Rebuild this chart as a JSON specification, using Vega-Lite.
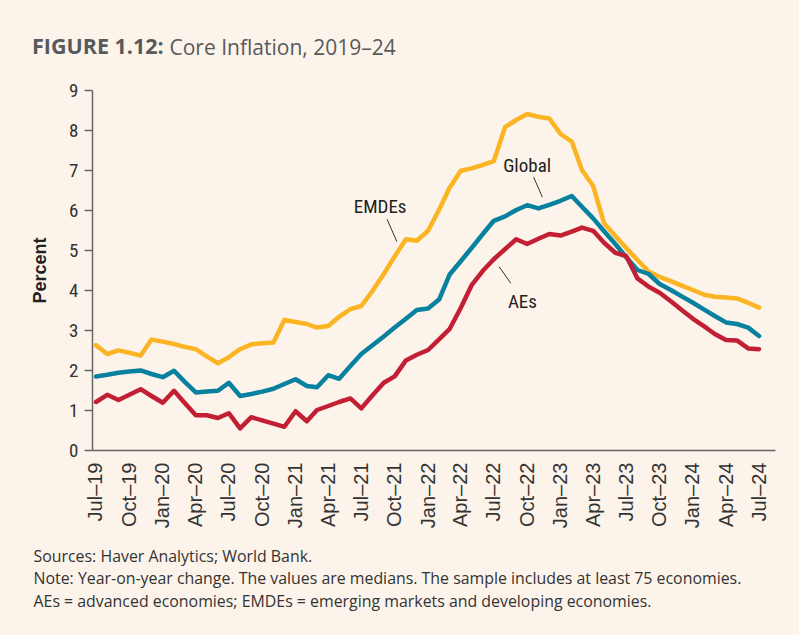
{
  "$schema": "https://vega.github.io/schema/vega-lite/v6.json",
  "width": 683,
  "height": 360,
  "autosize": {"type": "none"},
  "padding": {"left": 92, "top": 90, "right": 24, "bottom": 185},
  "background": "#FCF4EA",
  "config": {"view": {"stroke": null}, "font": "Open Sans"},
  "title": {
    "text": "FIGURE 1.12:",
    "anchor": "start",
    "frame": "group",
    "dx": -60,
    "offset": -38,
    "baseline": "alphabetic",
    "font": "Open Sans",
    "fontSize": 21.5,
    "fontWeight": "bold",
    "color": "#58595B"
  },
  "resolve": {"axis": {"x": "independent"}},
  "encoding": {
    "y": {
      "field": "value",
      "type": "quantitative",
      "scale": {"domain": [0, 9], "nice": false},
      "axis": {
        "values": [0, 1, 2, 3, 4, 5, 6, 7, 8, 9],
        "tickSize": 8,
        "tickColor": "#666666",
        "tickWidth": 1.5,
        "domainColor": "#666666",
        "domainWidth": 1.5,
        "grid": false,
        "labelFont": "Roboto Condensed, Roboto, sans-serif",
        "labelFontSize": 19,
        "labelColor": "#333333",
        "labelPadding": 6,
        "title": "Percent",
        "titleFont": "Liberation Sans",
        "titleFontSize": 18,
        "titleFontWeight": "bold",
        "titleColor": "#222222",
        "titleX": -47,
        "titleY": 180,
        "titleAngle": -90,
        "titleAlign": "center",
        "titleBaseline": "alphabetic"
      }
    }
  },
  "layer": [
    {
      "data": {
        "values": [
          {"date": "2019-07-01", "EMDEs": 2.62, "Global": 1.84, "AEs": 1.20},
          {"date": "2019-08-01", "EMDEs": 2.40, "Global": 1.88, "AEs": 1.38},
          {"date": "2019-09-01", "EMDEs": 2.49, "Global": 1.93, "AEs": 1.25},
          {"date": "2019-10-01", "EMDEs": 2.43, "Global": 1.96, "AEs": 1.38},
          {"date": "2019-11-01", "EMDEs": 2.36, "Global": 1.99, "AEs": 1.52},
          {"date": "2019-12-01", "EMDEs": 2.76, "Global": 1.90, "AEs": 1.35},
          {"date": "2020-01-01", "EMDEs": 2.71, "Global": 1.82, "AEs": 1.18},
          {"date": "2020-02-01", "EMDEs": 2.65, "Global": 1.98, "AEs": 1.48},
          {"date": "2020-03-01", "EMDEs": 2.58, "Global": 1.71, "AEs": 1.18},
          {"date": "2020-04-01", "EMDEs": 2.52, "Global": 1.44, "AEs": 0.87},
          {"date": "2020-05-01", "EMDEs": 2.34, "Global": 1.46, "AEs": 0.87},
          {"date": "2020-06-01", "EMDEs": 2.17, "Global": 1.48, "AEs": 0.80},
          {"date": "2020-07-01", "EMDEs": 2.32, "Global": 1.68, "AEs": 0.92},
          {"date": "2020-08-01", "EMDEs": 2.52, "Global": 1.35, "AEs": 0.54},
          {"date": "2020-09-01", "EMDEs": 2.64, "Global": 1.40, "AEs": 0.82},
          {"date": "2020-10-01", "EMDEs": 2.67, "Global": 1.46, "AEs": 0.74},
          {"date": "2020-11-01", "EMDEs": 2.69, "Global": 1.53, "AEs": 0.66},
          {"date": "2020-12-01", "EMDEs": 3.25, "Global": 1.65, "AEs": 0.58},
          {"date": "2021-01-01", "EMDEs": 3.20, "Global": 1.77, "AEs": 0.97},
          {"date": "2021-02-01", "EMDEs": 3.15, "Global": 1.60, "AEs": 0.72},
          {"date": "2021-03-01", "EMDEs": 3.06, "Global": 1.57, "AEs": 1.00},
          {"date": "2021-04-01", "EMDEs": 3.10, "Global": 1.87, "AEs": 1.10},
          {"date": "2021-05-01", "EMDEs": 3.33, "Global": 1.78, "AEs": 1.20},
          {"date": "2021-06-01", "EMDEs": 3.52, "Global": 2.10, "AEs": 1.29},
          {"date": "2021-07-01", "EMDEs": 3.60, "Global": 2.40, "AEs": 1.04},
          {"date": "2021-08-01", "EMDEs": 3.98, "Global": 2.62, "AEs": 1.37},
          {"date": "2021-09-01", "EMDEs": 4.40, "Global": 2.84, "AEs": 1.68},
          {"date": "2021-10-01", "EMDEs": 4.84, "Global": 3.06, "AEs": 1.84},
          {"date": "2021-11-01", "EMDEs": 5.27, "Global": 3.28, "AEs": 2.24},
          {"date": "2021-12-01", "EMDEs": 5.23, "Global": 3.50, "AEs": 2.38},
          {"date": "2022-01-01", "EMDEs": 5.48, "Global": 3.54, "AEs": 2.50},
          {"date": "2022-02-01", "EMDEs": 6.02, "Global": 3.77, "AEs": 2.77},
          {"date": "2022-03-01", "EMDEs": 6.55, "Global": 4.38, "AEs": 3.02},
          {"date": "2022-04-01", "EMDEs": 6.98, "Global": 4.72, "AEs": 3.55},
          {"date": "2022-05-01", "EMDEs": 7.04, "Global": 5.05, "AEs": 4.12},
          {"date": "2022-06-01", "EMDEs": 7.13, "Global": 5.40, "AEs": 4.48},
          {"date": "2022-07-01", "EMDEs": 7.22, "Global": 5.73, "AEs": 4.77},
          {"date": "2022-08-01", "EMDEs": 8.07, "Global": 5.84, "AEs": 5.02},
          {"date": "2022-09-01", "EMDEs": 8.25, "Global": 6.00, "AEs": 5.27},
          {"date": "2022-10-01", "EMDEs": 8.40, "Global": 6.12, "AEs": 5.15},
          {"date": "2022-11-01", "EMDEs": 8.33, "Global": 6.04, "AEs": 5.28},
          {"date": "2022-12-01", "EMDEs": 8.29, "Global": 6.13, "AEs": 5.40},
          {"date": "2023-01-01", "EMDEs": 7.90, "Global": 6.23, "AEs": 5.36},
          {"date": "2023-02-01", "EMDEs": 7.71, "Global": 6.35, "AEs": 5.46},
          {"date": "2023-03-01", "EMDEs": 7.00, "Global": 6.08, "AEs": 5.56},
          {"date": "2023-04-01", "EMDEs": 6.60, "Global": 5.79, "AEs": 5.48},
          {"date": "2023-05-01", "EMDEs": 5.67, "Global": 5.47, "AEs": 5.18},
          {"date": "2023-06-01", "EMDEs": 5.35, "Global": 5.15, "AEs": 4.93},
          {"date": "2023-07-01", "EMDEs": 5.05, "Global": 4.82, "AEs": 4.85},
          {"date": "2023-08-01", "EMDEs": 4.75, "Global": 4.50, "AEs": 4.29},
          {"date": "2023-09-01", "EMDEs": 4.46, "Global": 4.40, "AEs": 4.08},
          {"date": "2023-10-01", "EMDEs": 4.33, "Global": 4.15, "AEs": 3.93},
          {"date": "2023-11-01", "EMDEs": 4.22, "Global": 4.00, "AEs": 3.72},
          {"date": "2023-12-01", "EMDEs": 4.11, "Global": 3.84, "AEs": 3.50},
          {"date": "2024-01-01", "EMDEs": 4.00, "Global": 3.68, "AEs": 3.28},
          {"date": "2024-02-01", "EMDEs": 3.88, "Global": 3.51, "AEs": 3.09},
          {"date": "2024-03-01", "EMDEs": 3.83, "Global": 3.35, "AEs": 2.90},
          {"date": "2024-04-01", "EMDEs": 3.81, "Global": 3.19, "AEs": 2.75},
          {"date": "2024-05-01", "EMDEs": 3.79, "Global": 3.15, "AEs": 2.74},
          {"date": "2024-06-01", "EMDEs": 3.68, "Global": 3.06, "AEs": 2.54},
          {"date": "2024-07-01", "EMDEs": 3.56, "Global": 2.85, "AEs": 2.52}
        ]
      },
      "transform": [{"fold": ["EMDEs", "Global", "AEs"], "as": ["series", "value"]}],
      "mark": {"type": "line", "strokeWidth": 4.5, "strokeJoin": "round", "strokeCap": "round"},
      "encoding": {
        "x": {
          "field": "date",
          "type": "temporal",
          "scale": {
            "type": "utc",
            "domain": [
              {"year": 2019, "month": 6, "date": 20, "utc": true},
              {"year": 2024, "month": 8, "date": 14, "utc": true}
            ]
          },
          "axis": {
            "orient": "bottom",
            "values": [
              {"year": 2019, "month": 7, "date": 1, "utc": true},
              {"year": 2019, "month": 10, "date": 1, "utc": true},
              {"year": 2020, "month": 1, "date": 1, "utc": true},
              {"year": 2020, "month": 4, "date": 1, "utc": true},
              {"year": 2020, "month": 7, "date": 1, "utc": true},
              {"year": 2020, "month": 10, "date": 1, "utc": true},
              {"year": 2021, "month": 1, "date": 1, "utc": true},
              {"year": 2021, "month": 4, "date": 1, "utc": true},
              {"year": 2021, "month": 7, "date": 1, "utc": true},
              {"year": 2021, "month": 10, "date": 1, "utc": true},
              {"year": 2022, "month": 1, "date": 1, "utc": true},
              {"year": 2022, "month": 4, "date": 1, "utc": true},
              {"year": 2022, "month": 7, "date": 1, "utc": true},
              {"year": 2022, "month": 10, "date": 1, "utc": true},
              {"year": 2023, "month": 1, "date": 1, "utc": true},
              {"year": 2023, "month": 4, "date": 1, "utc": true},
              {"year": 2023, "month": 7, "date": 1, "utc": true},
              {"year": 2023, "month": 10, "date": 1, "utc": true},
              {"year": 2024, "month": 1, "date": 1, "utc": true},
              {"year": 2024, "month": 4, "date": 1, "utc": true},
              {"year": 2024, "month": 7, "date": 1, "utc": true}
            ],
            "labelExpr": "utcFormat(datum.value, '%b\u2013%y')",
            "labelAngle": -90,
            "labelFont": "Liberation Sans",
            "labelFontSize": 20,
            "labelColor": "#333333",
            "labelPadding": 12,
            "labelOverlap": false,
            "labelFlush": false,
            "ticks": false,
            "grid": false,
            "domainColor": "#666666",
            "domainWidth": 1.5,
            "title": [
              "Sources: Haver Analytics; World Bank.",
              "Note: Year-on-year change. The values are medians. The sample includes at least 75 economies.",
              "AEs = advanced economies; EMDEs = emerging markets and developing economies."
            ],
            "titleFont": "Open Sans",
            "titleFontSize": 15.9,
            "titleFontWeight": "normal",
            "titleColor": "#333333",
            "titleAnchor": "start",
            "titleAlign": "left",
            "titleBaseline": "alphabetic",
            "titleX": -59,
            "titleY": 111,
            "titleLineHeight": 22.5
          }
        },
        "color": {
          "field": "series",
          "type": "nominal",
          "scale": {"domain": ["EMDEs", "Global", "AEs"], "range": ["#FBB424", "#08809F", "#C21F34"]},
          "legend": null
        }
      }
    },
    {
      "data": {
        "values": [
          {"date": "2021-09-10", "date2": "2021-10-07", "value": 5.77, "value2": 5.21},
          {"date": "2022-10-19", "date2": "2022-11-12", "value": 6.82, "value2": 6.32},
          {"date": "2022-07-16", "date2": "2022-08-17", "value": 4.58, "value2": 4.17}
        ]
      },
      "mark": {"type": "rule", "color": "#333333", "strokeWidth": 1},
      "encoding": {
        "x": {
          "field": "date",
          "type": "temporal",
          "scale": {
            "type": "utc",
            "domain": [
              {"year": 2019, "month": 6, "date": 20, "utc": true},
              {"year": 2024, "month": 8, "date": 14, "utc": true}
            ]
          },
          "axis": {
            "orient": "top",
            "labels": false,
            "ticks": false,
            "domain": false,
            "grid": false,
            "title": "Core Inflation, 2019\u201324",
            "titleFont": "Open Sans",
            "titleFontSize": 21,
            "titleFontWeight": "normal",
            "titleColor": "#58595B",
            "titleAnchor": "start",
            "titleAlign": "left",
            "titleBaseline": "alphabetic",
            "titleX": 77,
            "titleY": -36
          }
        },
        "x2": {"field": "date2"},
        "y2": {"field": "value2"}
      }
    },
    {
      "data": {
        "values": [
          {"date": "2021-08-22", "value": 5.92, "label": "EMDEs"},
          {"date": "2022-10-01", "value": 6.96, "label": "Global"},
          {"date": "2022-09-18", "value": 3.54, "label": "AEs"}
        ]
      },
      "mark": {"type": "text", "font": "Roboto Condensed, Roboto, sans-serif", "fontSize": 19, "align": "center", "baseline": "alphabetic", "color": "#231F20"},
      "encoding": {
        "x": {
          "field": "date",
          "type": "temporal",
          "scale": {
            "type": "utc",
            "domain": [
              {"year": 2019, "month": 6, "date": 20, "utc": true},
              {"year": 2024, "month": 8, "date": 14, "utc": true}
            ]
          },
          "axis": null
        },
        "text": {"field": "label"}
      }
    }
  ]
}
